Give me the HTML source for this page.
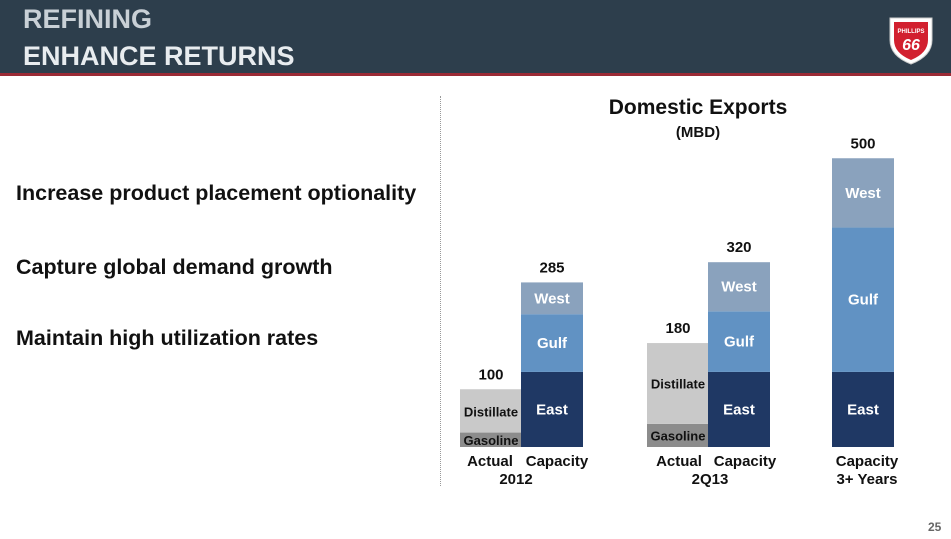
<!DOCTYPE html>
<html><head><meta charset="utf-8"><style>
body{margin:0;width:951px;height:539px;overflow:hidden;background:#fff;font-family:"Liberation Sans",sans-serif;position:relative}
.hdr{position:absolute;left:0;top:0;width:951px;height:73px;background:#2d3e4c}
.red{position:absolute;left:0;top:73px;width:951px;height:3px;background:#9b2a35}
.t{position:absolute;left:23px;color:#e8ecef;font-weight:bold;font-size:27px}
.b{position:absolute;left:16px;font-weight:bold;font-size:21.5px;color:#111}
</style></head><body>
<div class="hdr"></div>
<div class="red"></div>
<div class="t" style="top:4px;color:#c9d0d6">REFINING</div>
<div class="t" style="top:41px">ENHANCE RETURNS</div>
<svg style="position:absolute;left:884px;top:12px" width="54" height="54">
<path d="M6 6 L48 6 L48 28 Q48 44 27 52 Q6 44 6 28 Z" fill="#fff" stroke="#ccc"/>
<path d="M10 10 L44 10 L44 28 Q44 41 27 48 Q10 41 10 28 Z" fill="#d2202f"/>
<text x="27" y="21" font-size="6" fill="#fff" text-anchor="middle" font-weight="bold" font-family="Liberation Sans">PHILLIPS</text>
<text x="27" y="38" font-size="16" fill="#fff" text-anchor="middle" font-weight="bold" font-style="italic" font-family="Liberation Sans">66</text>
</svg>
<div class="b" style="top:181px">Increase product placement optionality</div>
<div class="b" style="top:255px">Capture global demand growth</div>
<div class="b" style="top:326px">Maintain high utilization rates</div>
<div style="position:absolute;left:440px;top:96px;height:390px;border-left:1px dotted #999"></div>
<div style="position:absolute;left:928px;top:520px;font-size:12px;color:#666;font-weight:bold">25</div>
<svg id="c" style="position:absolute;left:0;top:0" width="951" height="539">
<text x="698" y="114" font-size="21" font-weight="bold" text-anchor="middle" fill="#111">Domestic Exports</text>
<text x="698" y="137" font-size="15" font-weight="bold" text-anchor="middle" fill="#111">(MBD)</text>
</svg>
<script>
const bars=["Actual 2012","Capacity 2012","Actual 2Q13","Capacity 2Q13","Capacity 3+"];
const segNames=[["Gasoline","Distillate"],["East","Gulf","West"],["Gasoline","Distillate"],["East","Gulf","West"],["East","Gulf","West"]];
const segValues=[[25,75],[130,100,55],[40,140],[130,105,85],[130,250,120]];
const totals=["100","285","180","320","500"];
const colors={Gasoline:"#8c8c8c",Distillate:"#c9c9c9",East:"#1f3864",Gulf:"#6192c3",West:"#8aa2bd"};
const barX=[460,521,647,708,832];
const base=447, k=0.5775, bw=62;
const y=v=>base-v*k;
const svg=document.getElementById('c');
const NS="http://www.w3.org/2000/svg";
function mk(tag,a){const e=document.createElementNS(NS,tag);for(const n in a)e.setAttribute(n,a[n]);svg.appendChild(e);return e;}
bars.forEach((b,i)=>{
 let acc=0;
 segValues[i].forEach((v,j)=>{
  const nm=segNames[i][j];
  const r=mk('rect',{x:barX[i],y:y(acc+v),width:bw,height:v*k,fill:colors[nm]});
  
  
  const dark=(nm==="Gasoline"||nm==="Distillate");
  let ty=y(acc+v/2)+5;
  if(nm==="Distillate"&&i===0) ty=y(acc)-16;
  const t=mk('text',{x:barX[i]+bw/2,y:ty,'font-size':dark?13:15,'font-weight':'bold','text-anchor':'middle',fill:dark?'#111':'#fff'});
  t.textContent=nm;
  
  
  acc+=v;
 });
 const tt=mk('text',{x:barX[i]+bw/2,y:y(acc)-10,'font-size':15,'font-weight':'bold','text-anchor':'middle',fill:'#111'});
 tt.textContent=totals[i];
 
 
});
const cats=[["Actual",490,466],["Capacity",557,466],["2012",516,484],["Actual",679,466],["Capacity",745,466],["2Q13",710,484],["Capacity",867,466],["3+ Years",867,484]];
cats.forEach(c=>{const t=mk('text',{x:c[1],y:c[2],'font-size':15,'font-weight':'bold','text-anchor':'middle',fill:'#111'});t.textContent=c[0];

});
</script>
</body></html>
